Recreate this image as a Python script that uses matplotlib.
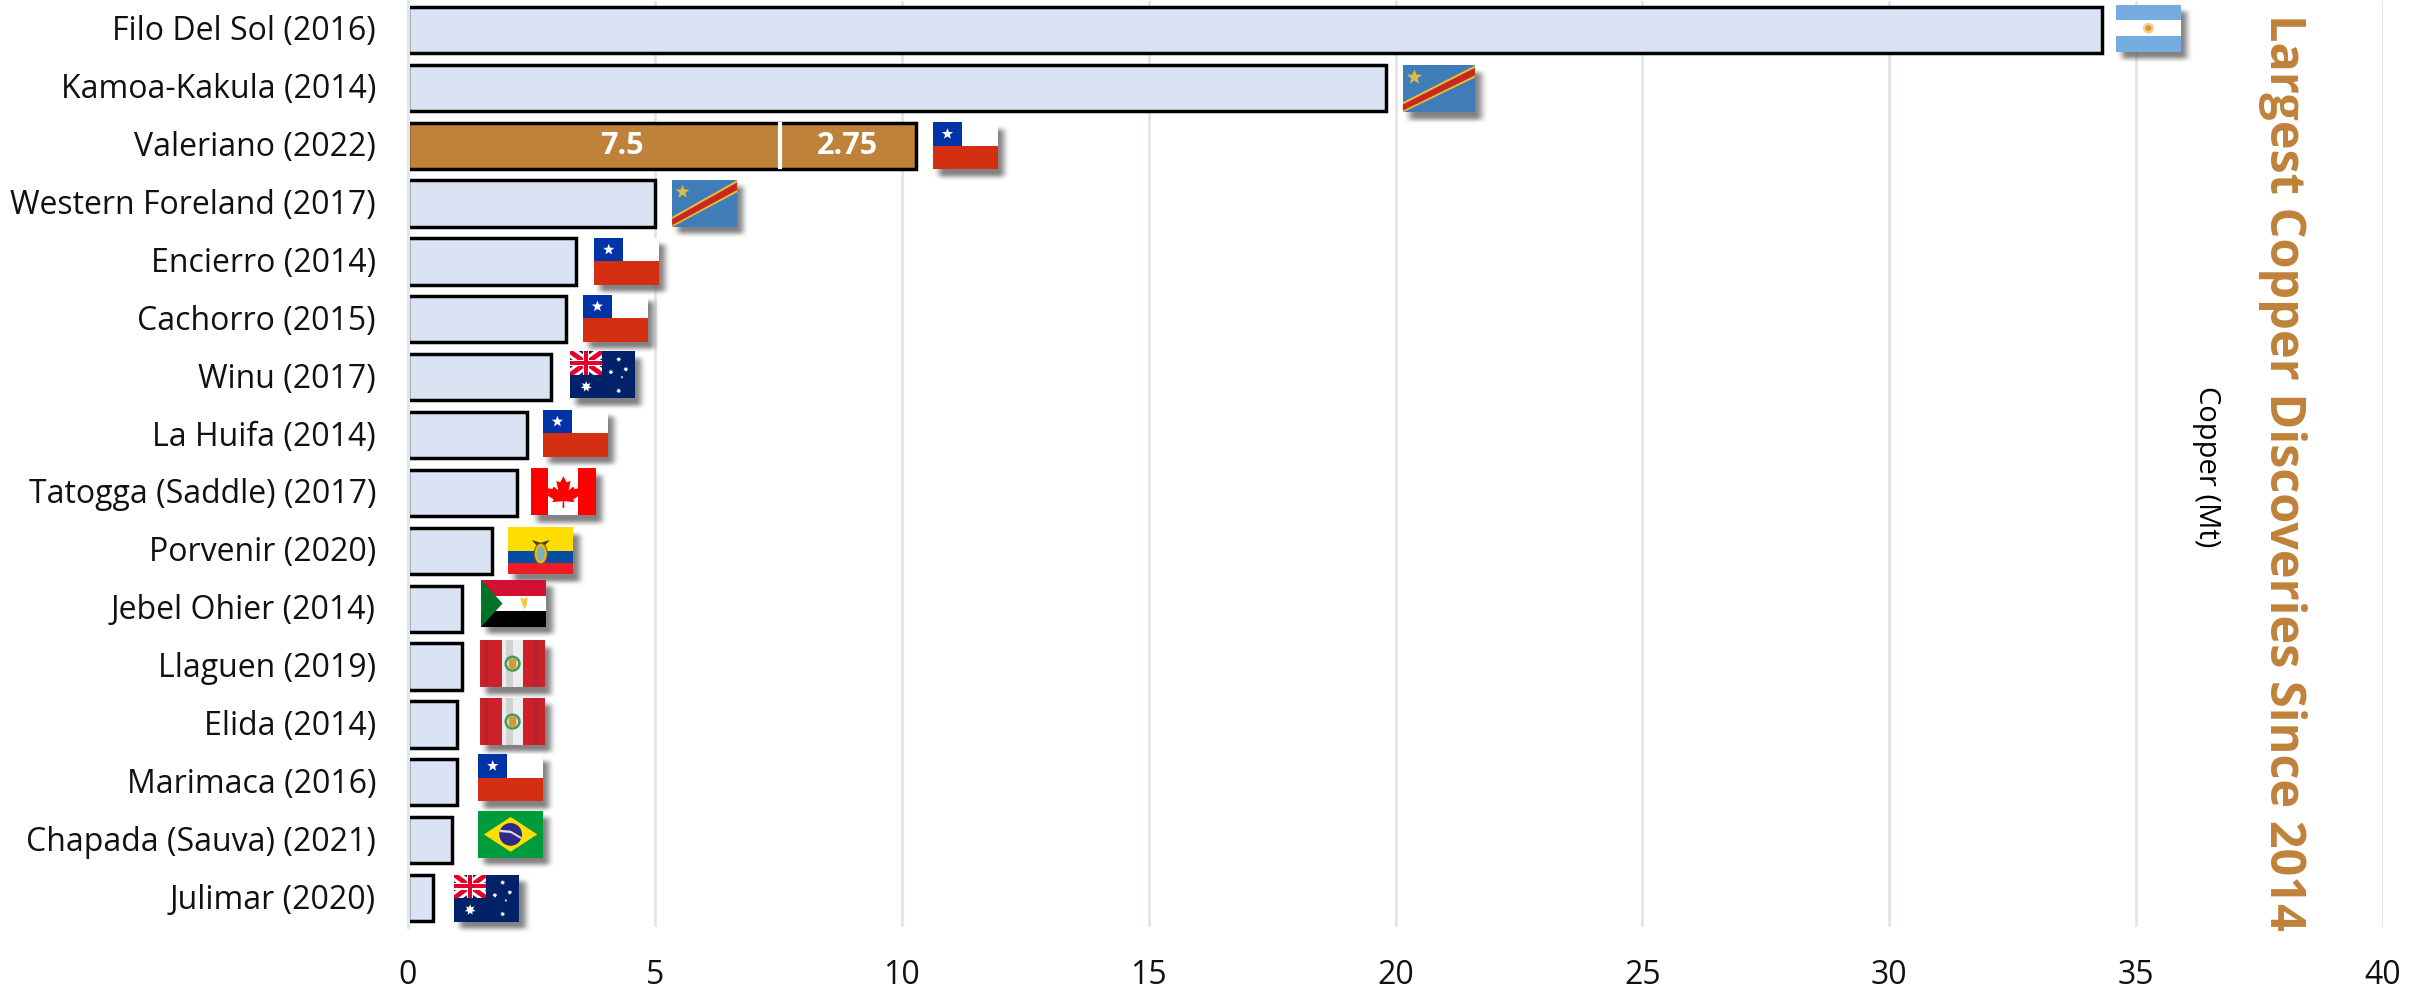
import numpy as np
import matplotlib
matplotlib.use('Agg')
import matplotlib.pyplot as plt
from matplotlib.patches import Polygon, Rectangle, Ellipse
from matplotlib.transforms import ScaledTranslation

plt.rcParams['font.family'] = ['Open Sans', 'DejaVu Sans']

names = ['Filo Del Sol (2016)', 'Kamoa-Kakula (2014)', 'Valeriano (2022)', 'Western Foreland (2017)',
         'Encierro (2014)', 'Cachorro (2015)', 'Winu (2017)', 'La Huifa (2014)',
         'Tatogga (Saddle) (2017)', 'Porvenir (2020)', 'Jebel Ohier (2014)', 'Llaguen (2019)',
         'Elida (2014)', 'Marimaca (2016)', 'Chapada (Sauva) (2021)', 'Julimar (2020)']
copper = [34.3, 19.8, 10.28, 5.0, 3.4, 3.2, 2.9, 2.4, 2.2, 1.7, 1.1, 1.1, 1.0, 1.0, 0.9, 0.5]
valeriano_parts = [7.5, 2.75]
valeriano_split = 7.53
countries = ['argentina', 'drc', 'chile', 'drc', 'chile', 'chile', 'australia', 'chile',
             'canada', 'ecuador', 'sudan', 'peru', 'peru', 'chile', 'brazil', 'australia']
xticks = [0, 5, 10, 15, 20, 25, 30, 35, 40]

# where the flags sit, x in Mt, y as a nudge off the bar centre, width in px
flag_x = [34.59, 20.15, 10.63, 5.35, 3.77, 3.54, 3.28, 2.73, 2.49, 2.03, 1.48, 1.46, 1.46, 1.42, 1.42, 0.93]
flag_dy = [-.03, .02, 0, 0, 0, -.02, -.04, -.03, -.02, 0, -.09, -.05, -.05, -.08, -.1, 0]
flag_w = [65, 72, 65, 65, 65, 65, 65, 65, 65, 65, 65, 65, 65, 65, 65, 65]

W_PX, H_PX = 2430, 988
GOLD = '#BF823A'
GRID = '#E1E5EC'
FLAG_H = 47 / 57.875

fig = plt.figure(figsize=(24.3, 9.88), dpi=100)
ax = fig.add_axes([408 / W_PX, 1 - 927 / H_PX, (2383 - 408) / W_PX, 926 / H_PX])
y = np.arange(len(names))

ax.set_xlim(0, 40)
ax.set_ylim(15.5, -0.5)
for t in xticks[1:]:
    ax.axvline(t, color=GRID, lw=2, zorder=0.5)

colors = ['#DAE3F3'] * len(names)
colors[2] = GOLD
ax.barh(y, copper, height=0.8, color=colors, edgecolor='black', linewidth=2.5, zorder=2)
ax.axvline(0, color=GRID, lw=2.2, zorder=2.5, clip_on=False)

# Valeriano split
ax.plot([valeriano_split] * 2, [2 - 0.37, 2 + 0.37], color='white', lw=3, zorder=3)
ax.text(4.33, 2, str(valeriano_parts[0]), color='white', fontsize=22, fontweight='bold',
        ha='center', va='center', zorder=3)
ax.text(valeriano_split + valeriano_parts[1] / 2, 2, str(valeriano_parts[1]), color='white',
        fontsize=22, fontweight='bold', ha='center', va='center', zorder=3)

# soft shadow used behind every flag
n = 60
pad = 12
mask = np.zeros((n + 2 * pad, n + 2 * pad))
mask[pad:-pad, pad:-pad] = 1
kernel = np.hanning(15)
kernel /= kernel.sum()
mask = np.apply_along_axis(lambda r: np.convolve(r, kernel, mode='same'), 0, mask)
mask = np.apply_along_axis(lambda r: np.convolve(r, kernel, mode='same'), 1, mask)
shadow = np.zeros(mask.shape + (4,))
shadow[..., :3] = 0.3
shadow[..., 3] = mask * 0.7


def draw_flag(kind, x0, yc, w_px):
    fw = w_px / 49.375
    aspect = w_px / 47

    def to(u, v):
        return x0 + u * fw, yc + (v - 0.5) * FLAG_H

    def rect(u0, v0, u1, v1, color):
        poly([(u0, v0), (u1, v0), (u1, v1), (u0, v1)], color)

    def poly(pts, color, clip=None):
        p = Polygon([to(u, v) for u, v in pts], closed=True, fc=color, ec='none', zorder=4, clip_on=clip is not None)
        ax.add_patch(p)
        if clip is not None:
            p.set_clip_path(clip)

    def star(cu, cv, r, color, points=5, inner=0.42):
        pts = []
        for i in range(points * 2):
            a = -np.pi / 2 + i * np.pi / points
            rr = r if i % 2 == 0 else r * inner
            pts.append((cu + rr * np.cos(a), cv + rr * np.sin(a) * aspect))
        poly(pts, color)

    def oval(cu, cv, ru, color):
        cx, cy = to(cu, cv)
        ax.add_patch(Ellipse((cx, cy), 2 * ru * fw, 2 * ru * aspect * FLAG_H, fc=color, ec='none',
                             zorder=4, clip_on=False))

    sx = 6 / 49.375
    sy = 7 / 57.875
    mx = pad / n * fw
    my = pad / n * FLAG_H
    ax.imshow(shadow, extent=(x0 + sx - mx, x0 + sx + fw + mx, yc + sy + FLAG_H / 2 + my, yc + sy - FLAG_H / 2 - my),
              aspect='auto', interpolation='bilinear', zorder=3, clip_on=False)

    if kind == 'argentina':
        rect(0, 0, 1, 1, '#74ACDF')
        rect(0, 1 / 3, 1, 2 / 3, 'white')
        oval(.5, .5, .085, '#EBCFA0')
        oval(.5, .5, .045, '#E09A1A')
    elif kind == 'drc':
        rect(0, 0, 1, 1, '#3F7CB8')
        poly([(0, .78), (1, 0), (1, .26), (0, 1)], '#E3BC3C')
        poly([(0, .83), (1, .05), (1, .21), (0, .96)], '#C8281E')
        star(.16, .25, .11, '#DDBC3E')
    elif kind == 'chile':
        rect(0, 0, 1, 1, 'white')
        rect(0, .5, 1, 1, '#D52F12')
        rect(0, 0, .45, .5, '#0033A5')
        star(.225, .25, .09, 'white')
    elif kind == 'australia':
        rect(0, 0, 1, 1, '#012169')
        can = Rectangle(to(0, 0), .5 * fw, .5 * FLAG_H, transform=ax.transData)
        d = .07
        for k, c in [(1.0, 'white'), (.45, '#E4002B')]:
            t = d * k
            poly([(-t, t), (t, -t), (.5 + t, .5 - t), (.5 - t, .5 + t)], c, can)
            poly([(-t, .5 - t), (t, .5 + t), (.5 + t, t), (.5 - t, -t)], c, can)
        rect(.2, 0, .3, .5, 'white')
        rect(0, .18, .5, .32, 'white')
        rect(.22, 0, .28, .5, '#E4002B')
        rect(0, .21, .5, .29, '#E4002B')
        star(.25, .75, .085, 'white', points=7, inner=.5)
        star(.75, .17, .04, 'white', points=7, inner=.5)
        star(.63, .44, .04, 'white', points=7, inner=.5)
        star(.86, .38, .04, 'white', points=7, inner=.5)
        star(.80, .55, .025, 'white', points=5)
        star(.75, .84, .04, 'white', points=7, inner=.5)
    elif kind == 'canada':
        rect(0, 0, 1, 1, 'white')
        rect(0, 0, .27, 1, '#FF0000')
        rect(.73, 0, 1, 1, '#FF0000')
        leaf = [(.5, .17), (.55, .3), (.61, .27), (.58, .47), (.65, .39), (.67, .44), (.76, .42), (.73, .54),
                (.77, .56), (.65, .66), (.67, .72), (.51, .7), (.515, .84), (.485, .84), (.49, .7),
                (.33, .72), (.35, .66), (.23, .56), (.27, .54), (.24, .42), (.33, .44), (.35, .39),
                (.42, .47), (.39, .27), (.45, .3)]
        poly(leaf, '#FF0000')
    elif kind == 'ecuador':
        rect(0, 0, 1, .5, '#FFDD00')
        rect(0, .5, 1, .75, '#034EA2')
        rect(0, .75, 1, 1, '#ED1C24')
        poly([(.36, .27), (.5, .33), (.64, .27), (.56, .39), (.44, .39)], '#4A3A20')
        cx, cy = to(.5, .56)
        ax.add_patch(Ellipse((cx, cy), .2 * fw, .44 * FLAG_H, fc='#E5B920', ec='#7A5A20', lw=.8, zorder=4, clip_on=False))
        ax.add_patch(Ellipse((cx, cy), .12 * fw, .3 * FLAG_H, fc='#7FB0B8', ec='none', zorder=4, clip_on=False))
    elif kind == 'sudan':
        rect(0, 0, 1, 1 / 3, '#D21034')
        rect(0, 1 / 3, 1, 2 / 3, 'white')
        rect(0, 2 / 3, 1, 1, 'black')
        poly([(0, 0), (.33, .5), (0, 1)], '#007229')
        poly([(.6, .37), (.66, .4), (.72, .37), (.7, .53), (.67, .63), (.64, .53)], '#F5C842')
    elif kind == 'peru':
        rect(0, 0, 1, 1, '#CE2029')
        rect(.06, 0, .12, 1, '#B8222C')
        rect(.82, 0, .9, 1, '#B8222C')
        rect(1 / 3, 0, 2 / 3, 1, '#EDEDED')
        rect(.4, 0, .5, 1, '#D2D2D2')
        oval(.5, .5, .125, '#3F9B5A')
        oval(.5, .5, .085, '#EFEFEF')
        poly([(.44, .39), (.56, .39), (.56, .56), (.5, .65), (.44, .56)], '#D09A3A')
    elif kind == 'brazil':
        rect(0, 0, 1, 1, '#009B3A')
        poly([(.09, .5), (.5, .13), (.91, .5), (.5, .87)], '#FEDF00')
        oval(.5, .5, .175, '#2B2A86')
        poly([(.33, .4), (.5, .42), (.67, .56), (.66, .6), (.5, .47), (.33, .45)], '#D8DDE8')


for kind, fx, dy, yi, fw_px in zip(countries, flag_x, flag_dy, y, flag_w):
    draw_flag(kind, fx, yi + dy, fw_px)

ax.set_xlim(0, 40)
ax.set_ylim(15.5, -0.5)

for s in ax.spines.values():
    s.set_visible(False)
ax.set_yticks(y)
ax.set_yticklabels(names, fontsize=23, color='#111111')
ax.set_xticks(xticks)
ax.tick_params(axis='both', length=0)
ax.tick_params(axis='x', labelsize=23, labelcolor='#111111', pad=23)
ax.tick_params(axis='y', pad=23)
# category labels sit slightly above the bar centres
up = ScaledTranslation(0, 2 / 100, fig.dpi_scale_trans)
for lab in ax.get_yticklabels():
    lab.set_transform(lab.get_transform() + up)

fig.text(2283 / W_PX, 1 - 472 / H_PX, 'Largest Copper Discoveries Since 2014', rotation=-90, color=GOLD,
         fontsize=35, fontweight='bold', ha='center', va='center')
fig.text(2206 / W_PX, 1 - 467 / H_PX, 'Copper (Mt)', rotation=-90, color='black',
         fontsize=21, ha='center', va='center')

fig.savefig('out.png', dpi=100)
